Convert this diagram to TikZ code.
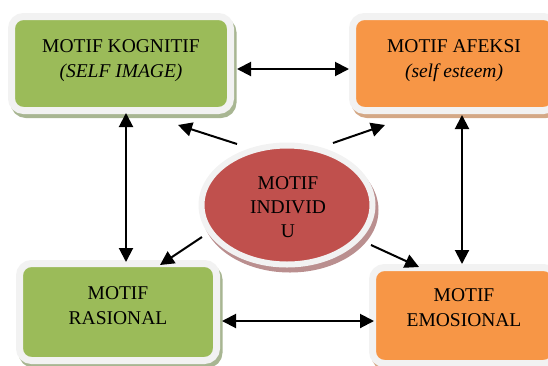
\documentclass[tikz,border=0pt]{standalone}
\usepackage{fontspec}
\setmainfont{Liberation Serif}
\usetikzlibrary{arrows.meta,shapes.geometric,shadows,calc}
\definecolor{boxgreen}{HTML}{9BBB59}
\definecolor{boxorange}{HTML}{F79646}
\definecolor{boxred}{HTML}{C0504D}
\definecolor{rim}{HTML}{F2F2F2}
\definecolor{gshade}{RGB}{168,182,146}
\definecolor{oshade}{RGB}{212,168,134}
\definecolor{rshade}{RGB}{186,143,143}
\begin{document}
\begin{tikzpicture}[x=1pt,y=-1pt,
  box/.style={draw=rim, line width=7pt, rounded corners=12pt, inner sep=0pt},
  shadeit/.style={general shadow={shadow xshift=2.5pt, shadow yshift=-4pt, fill=#1, draw=#1, line width=7pt}},
  txt/.style={font=\fontsize{19.5}{25}\selectfont, align=center, inner sep=0pt},
  arr/.style={line width=2pt, -{Triangle[length=14pt,width=14pt]}},
  darr/.style={line width=2pt, {Triangle[length=14pt,width=14pt]}-{Triangle[length=14pt,width=14pt]}}
]
\useasboundingbox (0,0) rectangle (548,365);

% boxes
\node[box, shadeit=gshade, fill=boxgreen, minimum width=219pt, minimum height=94pt] (kog) at (121,63.5) {};
\node[box, shadeit=oshade, fill=boxorange, minimum width=203pt, minimum height=94pt] (afe) at (454,63.5) {};
\node[box, shadeit=gshade, fill=boxgreen, minimum width=197pt, minimum height=97pt] (ras) at (118,312) {};
\node[box, shadeit=oshade, fill=boxorange, minimum width=183pt, minimum height=96pt] (emo) at (464,315.5) {};
\node[ellipse, draw=rim, line width=6pt, fill=boxred, inner sep=0pt,
      minimum width=171pt, minimum height=119pt,
      general shadow={shadow xshift=3pt, shadow yshift=-5pt, fill=rshade, draw=rshade, line width=6pt}] (ind) at (287,205) {};

% texts
\node[txt] (kogT) at (121,61) {MOTIF KOGNITIF\\\textit{(SELF IMAGE)}};
\node[txt] (afeT) at (454,61) {MOTIF AFEKSI\\\textit{(self esteem)}};
\node[txt] (rasT) at (118,306) {MOTIF\\RASIONAL};
\node[txt] (emoT) at (464,308) {MOTIF\\EMOSIONAL};
\node[txt, font=\fontsize{19.5}{24}\selectfont] (indT) at (288,207) {MOTIF\\INDIVID\\U};

% double arrows between boxes
\draw[darr] ($(kog.east)+(3,5.5)$) -- ($(afe.west)+(0,5.5)$);
\draw[darr] ($(kog.south)+(5,-1)$) -- ($(ras.north)+(8,2)$);
\draw[darr] ($(afe.south)+(8,1)$) -- ($(emo.north)+(-2,0)$);
\draw[darr] ($(ras.east)+(2,9)$) -- ($(emo.west)+(5,5.5)$);

% arrows from centre
\draw[arr] ($(ind.center)+(-50,-61)$) -- ($(kog.south)+(57,11)$);
\draw[arr] ($(ind.center)+(46,-62)$) -- ($(afe.south)+(-69,11)$);
\draw[arr] ($(ind.center)+(-85,32)$) -- ($(ras.north)+(42,5)$);
\draw[arr] ($(ind.center)+(84,40)$) -- ($(emo.north)+(-45,3)$);
\end{tikzpicture}
\end{document}
